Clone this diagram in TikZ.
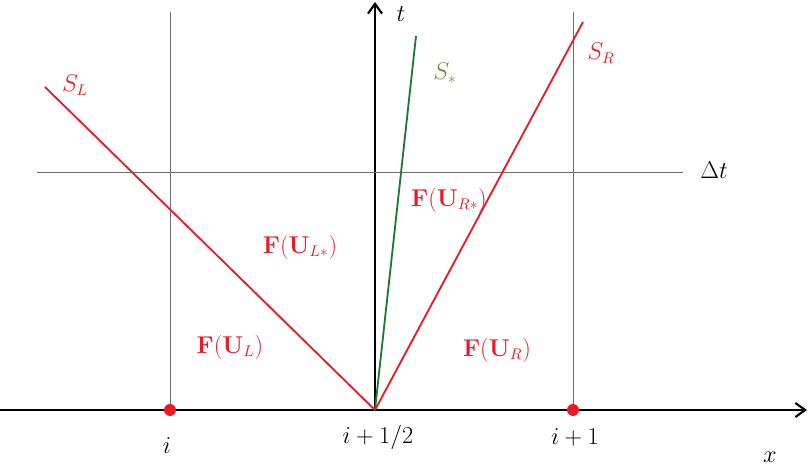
\documentclass[tikz,border=0pt]{standalone}
\usepackage{amsmath,amssymb,xcolor}
\usetikzlibrary{arrows.meta,positioning}
\definecolor{myred}{RGB}{235,25,35}
\definecolor{mygreen}{RGB}{30,120,50}
\definecolor{myolive}{RGB}{110,140,40}
\definecolor{mygrey}{RGB}{110,110,110}

\begin{document}
\begin{tikzpicture}[font=\fontsize{16}{19}\selectfont]
\useasboundingbox (-9.375,-1.525) rectangle (10.8,10.25);
\tikzset{axis/.style={line width=1.5pt,-{Straight Barb[length=7pt,width=10pt]}},
  grid line/.style={mygrey,line width=0.6pt},
  wave/.style={myred,line width=1.3pt},
  flux/.style={myred,font=\fontsize{16}{19}\selectfont\bfseries}}
% axes
\coordinate (O) at (0,0);
\coordinate (xl) at (-9.375,0);
\coordinate (xr) at (10.8,0);
\coordinate (tt) at (0,10.2);
\draw[axis] (xl) -- (xr);
\draw[axis] (O) -- (tt);
\node (tlab) at (0.65,9.9) {$t$};
\node (xlab) at (9.875,-1.175) {$x$};
% cell edges and time level
\coordinate (ci) at (-5.125,0);
\coordinate (cj) at (4.95,0);
\coordinate (ciT) at (-5.125,9.95);
\coordinate (cjT) at (4.95,9.95);
\draw[grid line] (ci) -- (ciT);
\draw[grid line] (cj) -- (cjT);
\coordinate (dl) at (-8.45,5.95);
\coordinate (dr) at (7.7,5.95);
\draw[grid line] (dl) -- (dr);
\node (dtlab) at (8.475,6.0) {$\Delta t$};
% waves
\coordinate (SLend) at (-8.25,8.075);
\coordinate (SRend) at (5.2,9.7);
\coordinate (Ssend) at (1.025,9.35);
\draw[wave] (O) -- (SLend);
\draw[wave] (O) -- (SRend);
\draw[mygreen,line width=1.3pt] (O) -- (Ssend);
\node[myred] (SL) at (-7.5,8.125) {$S_L$};
\node[myred] (SR) at (5.65,8.925) {$S_R$};
\node[myolive] (Ss) at (1.75,8.425) {$S_*$};
% fluxes
\node[flux] (FLs) at (-1.875,4.075) {$\mathbf{F}(\mathbf{U}_{L*})$};
\node[flux] (FRs) at (1.85,5.25) {$\mathbf{F}(\mathbf{U}_{R*})$};
\node[flux] (FL) at (-3.625,1.575) {$\mathbf{F}(\mathbf{U}_{L})$};
\node[flux] (FR) at (3.05,1.5) {$\mathbf{F}(\mathbf{U}_{R})$};
% cell centres
\fill[myred] (ci) circle (0.15);
\fill[myred] (cj) circle (0.15);
\node (ilab) at (-5.2,-0.9) {$i$};
\node (ihlab) at (0.075,-0.675) {$i+1/2$};
\node (i1lab) at (5.0,-0.675) {$i+1$};
\end{tikzpicture}
\end{document}
